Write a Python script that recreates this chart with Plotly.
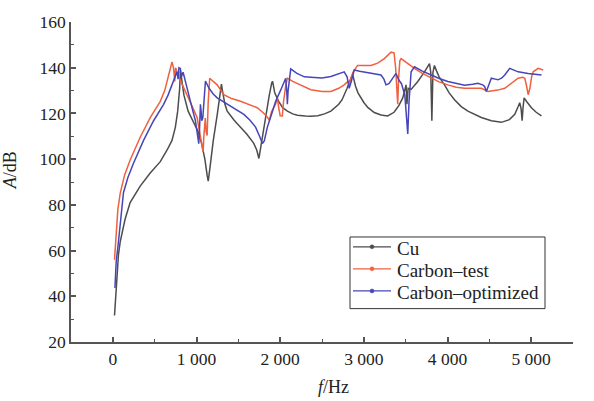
import plotly.graph_objects as go

# ---------------- data ----------------
cu_f = [20, 35, 48, 67, 88, 147, 207, 327, 447, 567, 647, 707, 747, 775, 799, 807, 815, 850, 900, 963,
        1020, 1060, 1100, 1127, 1140, 1160, 1200, 1250, 1285, 1298, 1310, 1340, 1367, 1450, 1526, 1600,
        1683, 1720, 1746, 1770, 1820, 1870, 1900, 1910, 1935, 1982, 2030, 2086, 2150, 2206, 2300, 2366,
        2450, 2530, 2606, 2660, 2700, 2740, 2765, 2800, 2830, 2855, 2866, 2880, 2900, 2930, 2965, 3000,
        3050, 3125, 3205, 3285, 3361, 3420, 3465, 3490, 3505, 3515, 3530, 3565, 3645, 3725, 3770, 3785,
        3800, 3813, 3826, 3844, 3870, 3900, 3964, 4020, 4084, 4164, 4244, 4330, 4404, 4524, 4644, 4740,
        4804, 4845, 4863, 4880, 4892, 4904, 4916, 4950, 5003, 5060, 5123]
cu_a = [31.6, 42, 49.5, 58.1, 63.8, 73.8, 81, 88.2, 93.9, 98.9, 103.9, 108.2, 113.9, 121, 131, 138.5, 137, 128, 121, 116.6,
        112, 107, 100, 93, 90.4, 96, 108, 120, 130, 132.8, 130, 124, 121, 117, 114, 111,
        107, 104, 100.3, 106, 118, 128, 133.5, 134, 129, 125.3, 122.5, 121, 119.8, 119.2, 118.9, 118.8,
        119, 119.8, 121, 122.5, 124, 126, 128, 131, 134, 136.5, 137, 135, 132, 129, 126.8, 124.8,
        122.5, 120.4, 119.3, 118.9, 120.5, 123.5, 126.8, 130.5, 132.5, 124, 131, 130.5, 134, 138.2, 140.5, 141.8,
        138, 116.8, 138, 141, 138.5, 136, 132.5, 129, 126, 123, 121, 119.3, 118.2, 116.8, 116.1, 117.3,
        119.6, 123, 124.7, 122, 116.8, 123, 126.8, 125, 122.5, 120.5, 118.9]

ct_f = [20, 40, 60, 88, 140, 207, 327, 447, 567, 620, 647, 680, 707, 725, 740, 750, 767, 800, 850, 887,
        950, 1007, 1040, 1067, 1079, 1088, 1095, 1105, 1115, 1127, 1140, 1158, 1200, 1247, 1326, 1420,
        1526, 1626, 1726, 1790, 1838, 1870, 1900, 1945, 1966, 1985, 2000, 2026, 2040, 2066, 2086, 2150,
        2246, 2366, 2500, 2606, 2700, 2765, 2810, 2830, 2845, 2870, 2925, 3000, 3085, 3165, 3245, 3325,
        3361, 3380, 3395, 3405, 3415, 3430, 3445, 3500, 3605, 3700, 3805, 3900, 4005, 4104, 4204, 4404,
        4484, 4600, 4684, 4760, 4844, 4900, 4924, 4945, 4964, 4985, 5005, 5024, 5084, 5144]
ct_a = [56, 70, 78, 85, 93, 99.6, 109.6, 118.2, 125.3, 130, 134, 139, 142.5, 140, 134, 140, 138.2, 135, 131, 128.2,
        123, 118.2, 112, 105.3, 103.2, 110, 116.8, 118, 112, 110.3, 125, 135.4, 134, 132.5, 128.2, 126.5,
        125.3, 124, 122.5, 120.5, 118.9, 117, 121, 124, 126.8, 122, 119, 118.9, 125, 132, 135.4, 134,
        132.5, 130.4, 129.6, 129.6, 131, 132.5, 134, 133, 135.4, 138, 141, 141, 141, 142, 144, 146.8,
        146.5, 140, 127, 124, 135, 143, 144, 142.5, 139.7, 137.5, 135.4, 133.8, 132.5, 131.5, 131, 131,
        129.6, 130.2, 131, 133, 135.4, 135.8, 135.4, 132, 128.2, 131, 136, 138.2, 139.7, 139]

co_f = [25, 40, 67, 90, 127, 180, 247, 367, 487, 607, 660, 707, 740, 767, 780, 790, 807, 820, 840, 870,
        907, 950, 987, 1010, 1027, 1035, 1047, 1055, 1062, 1075, 1090, 1107, 1150, 1200, 1247, 1330,
        1407, 1490, 1566, 1640, 1706, 1760, 1787, 1810, 1847, 1900, 1946, 2010, 2066, 2080, 2086, 2095,
        2126, 2200, 2290, 2366, 2500, 2606, 2700, 2765, 2800, 2825, 2850, 2885, 2950, 3085, 3205, 3240,
        3265, 3300, 3330, 3385, 3420, 3450, 3490, 3510, 3525, 3540, 3565, 3605, 3700, 3805, 3900, 4005,
        4104, 4204, 4300, 4364, 4420, 4444, 4464, 4490, 4524, 4570, 4604, 4650, 4684, 4744, 4800, 4844,
        4964, 5124]
co_a = [43.6, 55, 63.8, 73, 85.3, 92, 98.2, 108.2, 116.8, 124, 128, 132.5, 136, 138.2, 135, 140, 139.7, 136, 138, 133,
        128.2, 122, 116.8, 111, 106.8, 112, 124, 121, 116.8, 118, 128, 134.2, 131, 128.5, 126.8, 125,
        123.2, 121.5, 119.6, 117, 114, 109.5, 106.8, 108, 114, 120, 125.3, 130.5, 135.4, 129, 124, 130,
        139.5, 137.5, 136, 135.8, 135.5, 136.2, 137.5, 138.2, 136, 131, 134, 139, 138.5, 137.5, 136.8, 135,
        132.5, 133, 134.7, 137.5, 134.5, 133, 128, 118, 111, 125, 138.2, 140.4, 138.5, 136.8, 135.3, 134,
        133, 132.3, 132.8, 133.2, 132.5, 131.8, 129.6, 132, 135.4, 135, 134.7, 135.5, 136.8, 139.7, 139, 138.2,
        137.5, 136.8]

series_names = ["Cu", "Carbon–test", "Carbon–optimized"]
x_tickvals = [0, 1000, 2000, 3000, 4000, 5000]
x_ticktext = ["0", "1 000", "2 000", "3 000", "4 000", "5 000"]
y_tickvals = [20, 40, 60, 80, 100, 120, 140, 160]

colors = ["#4d4d4d", "#f0603f", "#4646b8"]
FONT = "Liberation Serif"
TXT = "#222222"

fig = go.Figure()
for (fx, ay), name, col in zip([(cu_f, cu_a), (ct_f, ct_a), (co_f, co_a)], series_names, colors):
    fig.add_trace(go.Scatter(x=fx, y=ay, mode="lines", name=name, line=dict(color=col, width=1.5),
                             showlegend=False, hoverinfo="skip"))

axis_common = dict(showgrid=False, zeroline=False, showline=True, linecolor="#555555", linewidth=1.5,
                   ticks="inside", ticklen=5, tickcolor="#555555", tickwidth=1.5,
                   tickfont=dict(family=FONT, size=17.5, color=TXT), mirror=False)

fig.update_xaxes(range=[-500, 5500], tickvals=x_tickvals, ticktext=x_ticktext,
                 minor=dict(dtick=500, tick0=0, ticks="inside", ticklen=3, tickcolor="#555555", tickwidth=1.2),
                 **axis_common)
fig.update_yaxes(range=[20, 160], tickvals=y_tickvals,
                 minor=dict(dtick=10, tick0=0, ticks="inside", ticklen=3, tickcolor="#555555", tickwidth=1.2),
                 **axis_common)

# ---- hand-built legend (box, line samples, dots, labels) ----
W, H, L, T = 502.0, 326.0, 71.0, 16.0
def px(x):
    return (x - L) / W
def py(y):
    return (T + H - y) / H

shapes = [dict(type="rect", xref="paper", yref="paper", x0=px(350), x1=px(545), y0=py(308), y1=py(235),
               line=dict(color="#333333", width=1), fillcolor="white", layer="above")]
annotations = []
rows = [245, 267.5, 290]
for name, col, ry in zip(series_names, colors, rows):
    shapes.append(dict(type="line", xref="paper", yref="paper", x0=px(353), x1=px(391), y0=py(ry), y1=py(ry),
                       line=dict(color=col, width=1.3), layer="above"))
    shapes.append(dict(type="circle", xref="paper", yref="paper", xsizemode="pixel", ysizemode="pixel",
                       xanchor=px(372), yanchor=py(ry), x0=-2, x1=2, y0=-2, y1=2,
                       line=dict(color=col, width=0.5), fillcolor=col, layer="above"))
    annotations.append(dict(text=name, x=px(395), y=py(ry + 1.5), xref="paper", yref="paper",
                            xanchor="left", yanchor="middle", showarrow=False,
                            font=dict(family=FONT, size=19, color=TXT)))

annotations += [
    dict(text="<i>A</i>/dB", x=px(10), y=py(167), xref="paper", yref="paper", showarrow=False,
         textangle=-90, xanchor="center", yanchor="middle", font=dict(family=FONT, size=18, color=TXT)),
    dict(text="<i>f</i>/Hz", x=px(333), y=py(388), xref="paper", yref="paper", showarrow=False,
         xanchor="center", yanchor="middle", font=dict(family=FONT, size=18, color=TXT)),
]

fig.update_layout(
    width=594, height=401,
    margin=dict(l=71, r=21, t=16, b=59),
    paper_bgcolor="white", plot_bgcolor="white",
    showlegend=False,
    shapes=shapes,
    annotations=annotations,
)

fig.write_html("out.html", config={"displayModeBar": False},
               post_script="document.body.style.margin='0px';")
